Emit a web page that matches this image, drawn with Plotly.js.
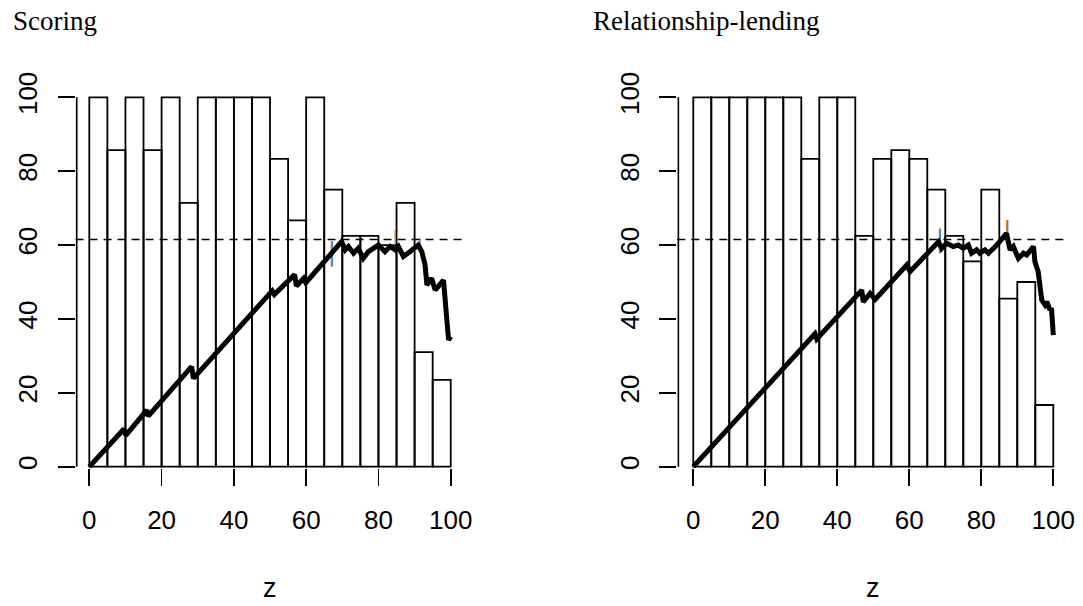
<!DOCTYPE html>
<html>
<head>
<meta charset="utf-8">
<script src="https://cdn.plot.ly/plotly-3.0.1.min.js"></script>
<style>html,body{margin:0;padding:0;background:#fff;}#chart{width:1083px;height:606px;}</style>
</head>
<body>
<div id="chart"></div>
<script>
// ---- data ----
const binStart = [0,5,10,15,20,25,30,35,40,45,50,55,60,65,70,75,80,85,90,95];
const scoringBars = [100,85.7,100,85.7,100,71.4,100,100,100,100,83.3,66.7,100,75,62.5,62.5,60,71.4,31,23.5];
const relBars     = [100,100,100,100,100,100,83.3,100,100,62.5,83.3,85.7,83.3,75,62.5,55.6,75,45.5,50,16.7];

const scoringLineX = [0,9.6,10.1,15.9,16.3,28.3,28.8,50.6,51.2,56.8,57.3,59.3,59.9,69.8,70.8,71.7,73.1,74.4,75.8,77.2,80.0,81.8,83.2,84.6,85.5,86.9,88.7,91.0,92.0,92.9,93.4,94.7,95.7,98.0,99.4,100];
const scoringLineY = [0,10.2,8.5,15.3,13.7,27.1,23.9,47.6,46.6,52.0,48.9,51.0,49.8,60.9,58.7,59.6,57.8,59.1,56.4,58.2,60.0,58.2,59.6,58.7,59.6,56.9,58.2,60.0,58.2,54.6,49.2,51.0,47.8,50.5,34.3,35.2];

const relLineX = [0,33.8,34.3,46.8,47.2,49.1,50.5,59.3,60.2,68.1,69.0,70.4,72.2,73.6,75.0,76.4,77.3,78.7,79.6,81.0,82.0,84.3,87.0,88.0,88.9,90.3,91.7,92.6,94.5,94.9,95.8,96.8,97.7,98.2,99.1,99.5,100];
const relLineY = [0,36.0,34.6,47.8,44.6,46.9,45.3,54.6,52.8,60.9,59.1,60.5,59.6,60.0,59.1,60.0,57.8,58.7,57.8,58.7,57.8,60.0,63.2,58.7,59.6,56.4,57.8,57.3,59.6,55.5,52.8,45.1,43.8,44.7,42.4,42.9,35.6];

const refLevel = 61.5;

// small coloured marks (x, low, high, colour)
const scoringMarkX = [66.95,67.25,84.6,91.5];
const scoringMarkLo = [54.1,54.1,60.5,58.7];
const scoringMarkHi = [61.0,61.0,64.1,61.9];
const scoringMarkC  = ['#d2852e','#3a7fd0','#d2852e','#3a7fd0'];
const relMarkX = [68.35,68.65,87.05,87.35];
const relMarkLo = [57.8,57.8,62.7,62.7];
const relMarkHi = [64.5,64.5,66.8,66.8];
const relMarkC  = ['#d2852e','#3a7fd0','#d2852e','#3a7fd0'];

const tickVals = [0,20,40,60,80,100];
const titles = ['Scoring','Relationship-lending'];
const xLabel = 'z';

// ---- layout helpers ----
const W = 1083, H = 606;
const traces = [];
function addPanel(xa, ya, bars, lx, ly, mx, mlo, mhi, mc){
  traces.push({type:'bar', x:binStart, y:bars, width:5, offset:0,
    marker:{color:'rgba(255,255,255,0)', line:{color:'#000', width:1.8}},
    xaxis:xa, yaxis:ya, hoverinfo:'skip', showlegend:false});
  for(let i=0;i<mx.length;i++){
    traces.push({type:'scatter', mode:'lines', x:[mx[i],mx[i]], y:[mlo[i],mhi[i]],
      line:{color:mc[i], width:1.3}, xaxis:xa, yaxis:ya, showlegend:false, hoverinfo:'skip'});
  }
  traces.push({type:'scatter', mode:'lines', x:lx, y:ly,
    line:{color:'#000', width:5, simplify:false}, xaxis:xa, yaxis:ya, showlegend:false, hoverinfo:'skip'});
}
addPanel('x','y',scoringBars,scoringLineX,scoringLineY,scoringMarkX,scoringMarkLo,scoringMarkHi,scoringMarkC);
addPanel('x2','y2',relBars,relLineX,relLineY,relMarkX,relMarkLo,relMarkHi,relMarkC);

const tickFont = {family:'Liberation Sans, Arial, sans-serif', size:26, color:'#000'};
function xAxis(range, dom){
  return {range:range, domain:dom, tickvals:tickVals, ticktext:tickVals.map(String),
    ticks:'outside', ticklen:17, tickwidth:1.8, tickcolor:'#000', ticklabelstandoff:12,
    showgrid:false, zeroline:false, showline:false, tickfont:tickFont, fixedrange:true};
}
function yAxis(anchor){
  return {range:[-0.35,104], domain:[(H-468)/H, (H-82.5)/H], anchor:anchor,
    tickvals:tickVals, ticktext:tickVals.map(String), tickangle:-90,
    ticks:'outside', ticklen:17, tickwidth:1.8, tickcolor:'#000', ticklabelstandoff:10,
    showgrid:false, zeroline:false, showline:false, tickfont:tickFont, fixedrange:true};
}

const layout = {
  width:W, height:H, margin:{l:0,r:0,t:0,b:0,pad:0},
  paper_bgcolor:'#fff', plot_bgcolor:'rgba(0,0,0,0)',
  showlegend:false, barmode:'overlay',
  xaxis: Object.assign(xAxis([-3.8,104],[75.57/W, 465.2/W]), {anchor:'y'}),
  yaxis: yAxis('x'),
  xaxis2: Object.assign(xAxis([-4.44,104.17],[677.3/W, 1068.3/W]), {anchor:'y2'}),
  yaxis2: yAxis('x2'),
  shapes:[
    {type:'line', xref:'x domain', x0:0, x1:1, yref:'y', y0:refLevel, y1:refLevel, line:{color:'#000', width:1.5, dash:'8px,6px'}},
    {type:'line', xref:'x2 domain', x0:0, x1:1, yref:'y2', y0:refLevel, y1:refLevel, line:{color:'#000', width:1.5, dash:'8px,6px'}},
    {type:'line', xref:'x', x0:-3.5, x1:-3.5, yref:'y', y0:0, y1:100, line:{color:'#000', width:1.8}},
    {type:'line', xref:'x2', x0:-4.17, x1:-4.17, yref:'y2', y0:0, y1:100, line:{color:'#000', width:1.8}}
  ],
  annotations:[
    {text:titles[0], xref:'paper', yref:'paper', x:11/W, y:(H-21)/H, xanchor:'left', yanchor:'middle', showarrow:false,
     font:{family:'Liberation Serif, Times New Roman, serif', size:27, color:'#000'}},
    {text:titles[1], xref:'paper', yref:'paper', x:591/W, y:(H-21)/H, xanchor:'left', yanchor:'middle', showarrow:false,
     font:{family:'Liberation Serif, Times New Roman, serif', size:27, color:'#000'}},
    {text:xLabel, xref:'x', yref:'paper', x:50, y:(H-588)/H, xanchor:'center', yanchor:'middle', showarrow:false,
     font:{family:'Liberation Sans, Arial, sans-serif', size:27, color:'#000'}},
    {text:xLabel, xref:'x2', yref:'paper', x:50, y:(H-588)/H, xanchor:'center', yanchor:'middle', showarrow:false,
     font:{family:'Liberation Sans, Arial, sans-serif', size:27, color:'#000'}}
  ]
};

Plotly.newPlot('chart', traces, layout, {staticPlot:true, displayModeBar:false});
</script>
</body>
</html>
